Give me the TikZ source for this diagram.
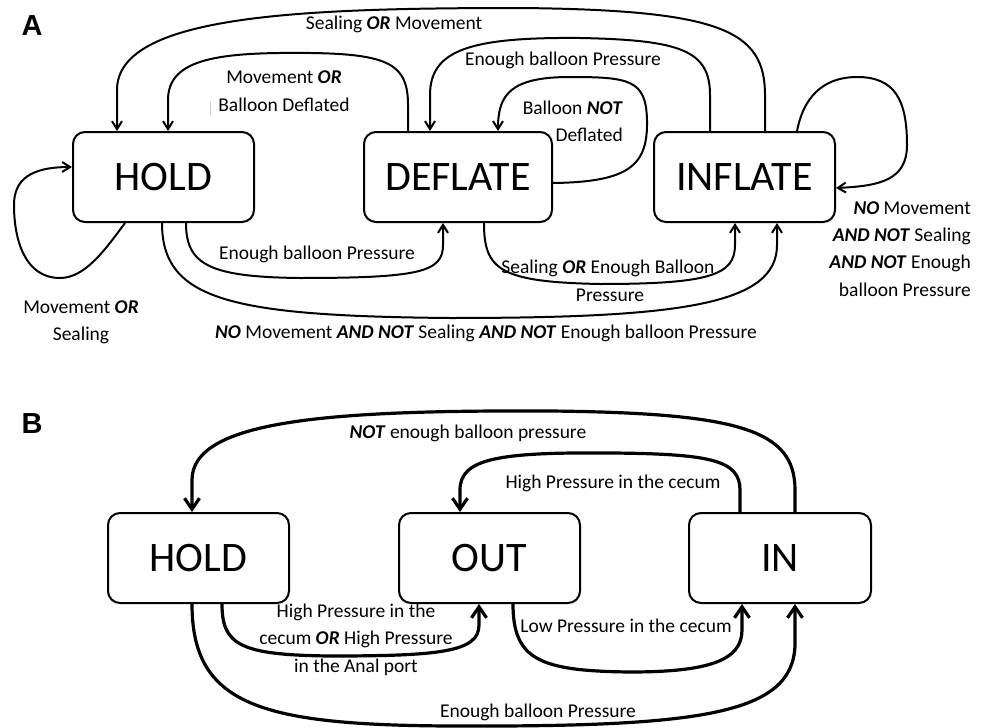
\documentclass[tikz,border=0pt]{standalone}
\usepackage{fontspec}
\setmainfont{Carlito}
\newfontfamily\panelfont{Liberation Sans}
\usetikzlibrary{arrows.meta,calc}
\newcommand{\bi}[1]{\textbf{\textit{#1}}}
\begin{document}
\begin{tikzpicture}[x=1pt,y=-1pt,
  state/.style={draw, line width=2pt, rounded corners=12pt, minimum height=90pt, inner sep=0pt, font=\fontsize{42}{50}\selectfont},
  lbl/.style={inner sep=0pt, font=\fontsize{19.5}{27.5}\selectfont},
  panel/.style={inner sep=0pt, font=\panelfont\bfseries\fontsize{29}{30}\selectfont},
  ea/.style={line width=2pt, -{Straight Barb[length=8pt,width=10pt]}},
  eb/.style={line width=3.2pt, -{Straight Barb[length=11pt,width=15pt]}}]
\useasboundingbox (0,0) rectangle (986,728);

% ---------- panel A ----------
\node[panel] (pA) at (32,26) {A};
\node[state, minimum width=181pt] (hA) at (163.5,177) {HOLD};
\node[state, minimum width=188pt] (dA) at (458,177) {DEFLATE};
\node[state, minimum width=181pt] (iA) at (744.5,177) {INFLATE};

\draw[ea] ($(iA.north)+(20.5,0)$) -- (765,95) .. controls (765,30) and (720,10) .. (520,8) .. controls (300,8) and (117,15) .. (117,90) -- ($(hA.north)+(-46.5,0)$);
\draw[ea] ($(dA.north)+(-50,0)$) -- (408,105) .. controls (408,65) and (390,54) .. (310,53) .. controls (220,52) and (168,58) .. (168,100) -- ($(hA.north)+(4.5,0)$);
\draw[ea] ($(iA.north)+(-34.5,0)$) -- (710,95) .. controls (710,50) and (680,40) .. (580,38) .. controls (470,37) and (430,50) .. (430,95) -- ($(dA.north)+(-28,0)$);
\draw[ea] ($(dA.east)+(0,6)$) .. controls (630,182) and (648,165) .. (647,120) .. controls (646,80) and (630,77) .. (570,77) .. controls (510,77) and (498,95) .. ($(dA.north)+(40,0)$);
\draw[ea] ($(iA.north)+(52.5,0)$) .. controls (805,90) and (830,77) .. (857,77) .. controls (895,77) and (907,100) .. (907,145) .. controls (907,180) and (880,186) .. ($(iA.east)+(0,11)$);
\draw[ea] ($(hA.south)+(-38.5,0)$) .. controls (105,250) and (85,278) .. (60,278) .. controls (25,278) and (14,240) .. (14,205) .. controls (14,180) and (30,167) .. ($(hA.west)+(0,-10)$);
\draw[ea] ($(hA.south)+(22.5,0)$) .. controls (186,265) and (210,277) .. (300,278) .. controls (420,278) and (443,272) .. (443,245) -- ($(dA.south)+(-15,0)$);
\draw[ea] ($(hA.south)+(-1.5,0)$) .. controls (162,300) and (230,316) .. (450,318) .. controls (680,318) and (777,305) .. (777,245) -- ($(iA.south)+(32.5,0)$);
\draw[ea] ($(dA.south)+(26,0)$) .. controls (484,270) and (500,282) .. (600,284) .. controls (710,284) and (735,275) .. (735,245) -- ($(iA.south)+(-9.5,0)$);

\node[lbl] (l1) at (394,24) {Sealing \bi{OR} Movement};
\node[lbl] (l2a) at (284,77) {Movement \bi{OR}};
\node[lbl] (l2b) at (284,105) {Balloon Deflated};
\draw[gray!40, line width=1pt] (210,102) -- (210,115);
\node[lbl] (l3) at (563,60) {Enough balloon Pressure};
\node[lbl, anchor=east] (l4a) at (623,108) {Balloon \bi{NOT}};
\node[lbl, anchor=east] (l4b) at (623,135) {Deflated};
\node[lbl, anchor=east] (l5a) at (971,208) {\bi{NO} Movement};
\node[lbl, anchor=east] (l5b) at (971,236) {\bi{AND NOT} Sealing};
\node[lbl, anchor=east] (l5c) at (971,263) {\bi{AND NOT} Enough};
\node[lbl, anchor=east] (l5d) at (971,290) {balloon Pressure};
\node[lbl] (l6a) at (81,307) {Movement \bi{OR}};
\node[lbl] (l6b) at (81,335) {Sealing};
\node[lbl] (l7) at (317,254) {Enough balloon Pressure};
\node[lbl] (l8) at (486,333) {\bi{NO} Movement \bi{AND NOT} Sealing \bi{AND NOT} Enough balloon Pressure};
\node[lbl] (l9a) at (608,268) {Sealing \bi{OR} Enough Balloon};
\node[lbl] (l9b) at (610,295) {Pressure};

% ---------- panel B ----------
\node[panel] (pB) at (32,424) {B};
\node[state, minimum width=181pt] (hB) at (198.5,558) {HOLD};
\node[state, minimum width=181pt] (oB) at (489.5,558) {OUT};
\node[state, minimum width=182pt] (nB) at (780,558) {IN};

\draw[eb] ($(nB.north)+(15,0)$) -- (795,490) .. controls (795,430) and (740,413) .. (550,411) .. controls (330,410) and (192,420) .. (192,480) -- ($(hB.north)+(-6.5,0)$);
\draw[eb] ($(nB.north)+(-40,0)$) -- (740,490) .. controls (740,460) and (710,454) .. (613,453) .. controls (500,452) and (460,458) .. (460,490) -- ($(oB.north)+(-29.5,0)$);
\draw[eb] ($(hB.south)+(23.5,0)$) .. controls (222,645) and (240,655) .. (330,656) .. controls (440,656) and (479,652) .. (479,625) -- ($(oB.south)+(-10.5,0)$);
\draw[eb] ($(oB.south)+(23.5,0)$) .. controls (513,660) and (540,671) .. (630,672) .. controls (710,672) and (742,660) .. (742,630) -- ($(nB.south)+(-38,0)$);
\draw[eb] ($(hB.south)+(-6.5,0)$) .. controls (192,705) and (260,725) .. (450,726) .. controls (700,727) and (793,715) .. (795,645) -- ($(nB.south)+(15,0)$);

\node[lbl] (m1) at (468,433) {\bi{NOT} enough balloon pressure};
\node[lbl] (m2) at (613,483) {High Pressure in the cecum};
\node[lbl] (m3a) at (356,612) {High Pressure in the};
\node[lbl] (m3b) at (356,639) {cecum \bi{OR} High Pressure};
\node[lbl] (m3c) at (356,667) {in the Anal port};
\node[lbl] (m4) at (626,626) {Low Pressure in the cecum};
\node[lbl] (m5) at (538,712) {Enough balloon Pressure};
\end{tikzpicture}
\end{document}
